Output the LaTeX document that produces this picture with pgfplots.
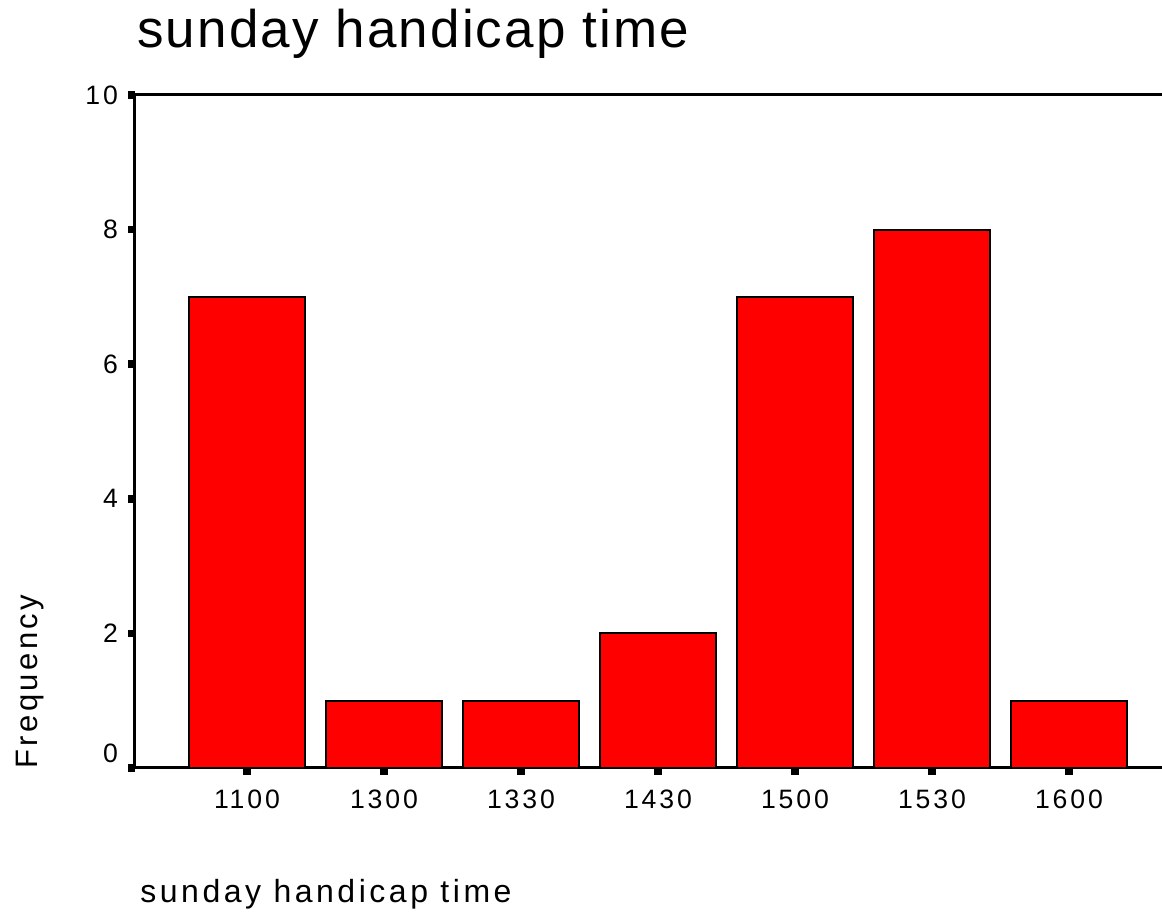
\documentclass[border=0pt]{standalone}
\usepackage{fontspec}
\setmainfont{Liberation Sans}
\newfontfamily\tickfont[LetterSpace=11]{Liberation Sans}
\newfontfamily\labfont[LetterSpace=11]{Liberation Sans}
\newfontfamily\titfont[LetterSpace=4]{Liberation Sans}
\usepackage{pgfplots}
\pgfplotsset{compat=1.18}
\begin{document}
\begin{tikzpicture}
\useasboundingbox (-67.5pt,-73pt) rectangle (513.5pt,384pt);
\begin{axis}[
  at={(0pt,0pt)}, anchor=south west,
  scale only axis, width=513.5pt, height=336.5pt,
  xmin=-0.8175, xmax=6.679, ymin=0, ymax=10,
  axis x line*=bottom, axis y line*=left,
  axis line style={line width=1.5pt, black, -},
  tick align=outside,
  major tick length=3.5pt,
  every major tick/.append style={line width=3.8pt, black},
  xtick={0,1,2,3,4,5,6},
  xticklabels={1100,1300,1330,1430,1500,1530,1600},
  ytick={2,4,6,8,10},
  extra y ticks={0},
  extra y tick style={yticklabel style={yshift=7.5pt}},
  /pgf/number format/assume math mode=true,
  tick label style={font=\tickfont\fontsize{13.3}{16}\selectfont, black},
  xticklabel style={yshift=-4pt},
  yticklabel style={xshift=-1.5pt},
  clip=false,
]
\addplot[ybar, bar width=0.845, fill=red, draw=black, line width=1pt]
  coordinates {(0,7) (1,1) (2,1) (3,2) (4,7) (5,8) (6,1)};
\draw[line width=1.5pt, black] (rel axis cs:0,1) -- (rel axis cs:1,1);
\end{axis}
\node[anchor=base west, inner sep=0pt, font=\titfont\fontsize{26.5}{30}\selectfont] at (1pt,360pt) {sunday handicap time};
\node[anchor=base west, inner sep=0pt, font=\labfont\fontsize{16}{19}\selectfont] at (2.5pt,-67.5pt) {sunday handicap time};
\node[anchor=base west, inner sep=0pt, rotate=90, font=\labfont\fontsize{15.5}{19}\selectfont] at (-48.5pt,-0.5pt) {Frequency};
\end{tikzpicture}
\end{document}
